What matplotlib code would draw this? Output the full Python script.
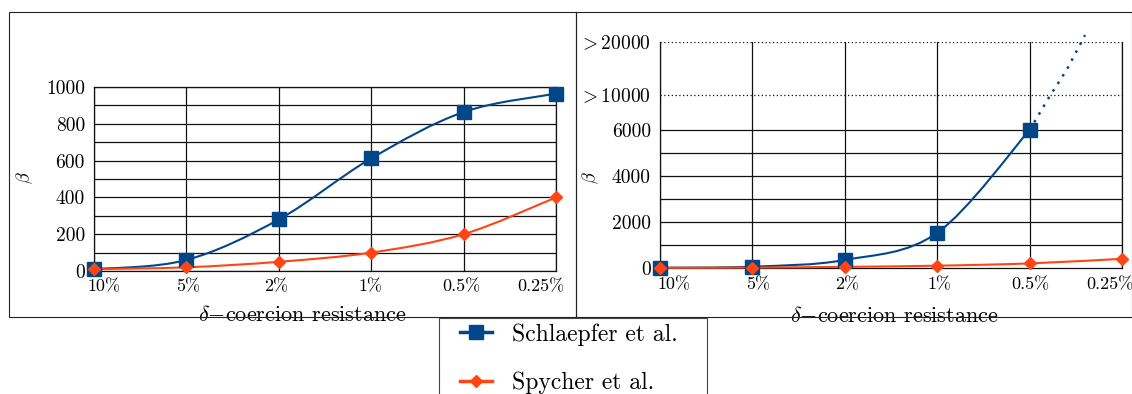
import numpy as np
import matplotlib
matplotlib.use("Agg")
import matplotlib.pyplot as plt
from matplotlib.path import Path
from matplotlib.patches import PathPatch, Rectangle
from matplotlib.lines import Line2D
from matplotlib.transforms import ScaledTranslation

plt.rcParams["font.family"] = "cmr10"
plt.rcParams["mathtext.fontset"] = "cm"
plt.rcParams["axes.unicode_minus"] = False

labels = ["10%", "5%", "2%", "1%", "0.5%", "0.25%"]
names = ["Schlaepfer et al.", "Spycher et al."]

left_schlaepfer = [10, 60, 280, 612, 864, 964]
left_spycher = [10, 20, 50, 100, 200, 400]

right_schlaepfer = [10, 60, 350, 1530, 6000]
right_spycher = [10, 20, 50, 100, 200, 400]
# dotted trend of Schlaepfer et al. past 0.5%
trend_x = [4, 4.22, 4.40, 4.60]
trend_y = [6000, 9900, 14700, 21300]

right_yticks = [0, 2000, 4000, 6000, 10000, 20000]
right_yticklabels = ["0", "2000", "4000", "6000", r"$>10000$", r"$>20000$"]

BLUE = "#02468a"
ORANGE = "#ff4513"
W, H = 1132, 394

# broken y axis of the right panel
brk = np.array([0.0, 6000.0, 10000.0, 20000.0])
pos = np.array([0.0, 6000.0, 7522.0, 9826.0])
slope_hi = (pos[-1] - pos[-2]) / (brk[-1] - brk[-2])


def fwd(y):
    y = np.asarray(y, float)
    out = np.interp(y, brk, pos)
    out = np.where(y > brk[-1], pos[-1] + (y - brk[-1]) * slope_hi, out)
    return np.where(y < 0, y, out)


def inv(v):
    v = np.asarray(v, float)
    out = np.interp(v, pos, brk)
    out = np.where(v > pos[-1], brk[-1] + (v - pos[-1]) / slope_hi, out)
    return np.where(v < 0, v, out)


def smooth_path(x, y):
    p = np.column_stack([x, y]).astype(float)
    n = len(p)
    verts = [p[0]]
    codes = [Path.MOVETO]
    for i in range(n - 1):
        a = p[i - 1] if i > 0 else p[i]
        b = p[i + 2] if i + 2 < n else p[i + 1]
        verts += [p[i] + (p[i + 1] - a) / 6, p[i + 1] - (b - p[i]) / 6, p[i + 1]]
        codes += [Path.CURVE4] * 3
    return Path(verts, codes)


def draw_series(ax, values, color, marker, ms):
    x = np.arange(len(values))
    ax.add_patch(PathPatch(smooth_path(x, values), fill=False, edgecolor=color,
                           lw=1.5, zorder=4, clip_on=False))
    ax.plot(x, values, linestyle="none", marker=marker, ms=ms, color=color,
            mec=color, zorder=5, clip_on=False)


def style_axes(ax, label_dx, label_dy):
    ax.set_xlim(0, len(labels) - 1)
    ax.set_xticks(np.arange(len(labels)), [""] * len(labels))
    ax.tick_params(length=0)
    ax.tick_params(axis="y", labelsize=14, pad=6.5)
    ax.grid(axis="x", color="#111111", lw=0.9)
    for s in ax.spines.values():
        s.set_color("#111111")
        s.set_linewidth(0.9)
    ax.set_axisbelow(True)
    base = ax.get_xaxis_transform()
    for i, (lab, dx) in enumerate(zip(labels, label_dx)):
        off = ScaledTranslation(dx / 100, -label_dy / 100, fig.dpi_scale_trans)
        ax.text(i, 0, lab, transform=base + off, ha="center", va="top",
                fontsize=13, clip_on=False)


fig = plt.figure(figsize=(W / 100, H / 100), dpi=100)

# left panel
axL = fig.add_axes([94 / W, 1 - 271 / H, 462 / W, 184 / H])
style_axes(axL, [9.5, 2, -3, -1, -2, -15], 8)
axL.set_ylim(0, 1000)
axL.set_yticks(range(0, 1001, 200))
axL.set_yticks(range(100, 1000, 200), minor=True)
axL.tick_params(which="minor", length=0)
axL.grid(axis="y", which="both", color="#111111", lw=0.9)
draw_series(axL, left_schlaepfer, BLUE, "s", 9.5)
draw_series(axL, left_spycher, ORANGE, "D", 6.3)
axL.set_xlabel(r"$\delta{-}$coercion resistance", fontsize=16)
axL.xaxis.set_label_coords((302 - 94) / 462, -0.185)
axL.set_ylabel(r"$\beta$", fontsize=13)
axL.yaxis.set_label_coords((35 - 94) / 462, 0.51)

# right panel
axR = fig.add_axes([660 / W, 1 - 268 / H, 462 / W, 226 / H])
axR.set_yscale("function", functions=(fwd, inv))
style_axes(axR, [13.5, 5.5, 2, 2, 1, -12], 9)
axR.set_ylim(0, 20000)
axR.set_yticks(right_yticks, right_yticklabels)
axR.spines["top"].set_visible(False)
for level in [1000, 2000, 3000, 4000, 5000, 6000]:
    axR.axhline(level, color="#111111", lw=0.9, zorder=1)
for level in [10000, 20000]:
    axR.axhline(level, color="#111111", lw=0.9, ls=(0, (1, 2)), zorder=1)
draw_series(axR, right_schlaepfer, BLUE, "s", 9.5)
draw_series(axR, right_spycher, ORANGE, "D", 6.3)
axR.plot(trend_x, trend_y, color=BLUE, lw=1.8, ls=(0, (1, 2.6)), zorder=4,
         clip_on=False)
axR.set_xlabel(r"$\delta{-}$coercion resistance", fontsize=16)
axR.xaxis.set_label_coords((894 - 660) / 462, -0.168)
axR.set_ylabel(r"$\beta$", fontsize=13)
axR.yaxis.set_label_coords((601 - 660) / 462, 0.40)

# panel frames and legend box
fig.add_artist(Rectangle((9 / W, 1 - 317 / H), 567 / W, 305 / H, fill=False,
                         edgecolor="#222222", lw=0.8, transform=fig.transFigure))
fig.add_artist(Rectangle((576 / W, 1 - 317 / H), 556 / W, 305 / H, fill=False,
                         edgecolor="#222222", lw=0.8, transform=fig.transFigure))
fig.add_artist(Rectangle((439 / W, 1 - 400 / H), 268 / W, 82 / H, fill=False,
                         edgecolor="#444444", lw=0.8, transform=fig.transFigure))

handles = [
    Line2D([], [], color=BLUE, lw=2.5, marker="s", ms=9.5),
    Line2D([], [], color=ORANGE, lw=2.5, marker="D", ms=6.3),
]
fig.legend(handles, names, loc="upper left", bbox_to_anchor=(460 / W, 1 - 323 / H),
           frameon=False, fontsize=17, handlelength=1.36, handletextpad=0.85,
           borderpad=0, borderaxespad=0, labelspacing=1.1)

fig.savefig("out.png", dpi=100)
